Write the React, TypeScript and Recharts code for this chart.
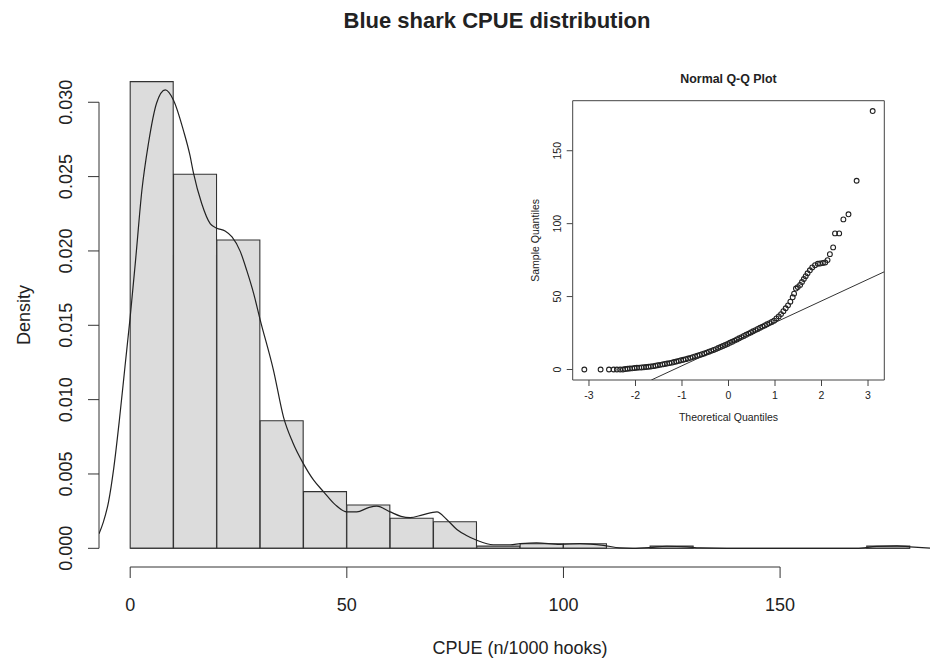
import React from 'react';
import {
  BarChart, Bar, LineChart, Line, ScatterChart, Scatter,
  XAxis, YAxis, ReferenceLine, ReferenceArea,
} from 'recharts';

const FONT = '"Liberation Sans", Arial, Helvetica, sans-serif';
const INK = '#222';

// histogram: bin midpoints (width 10) and density heights
const binMids = [5, 15, 25, 35, 45, 55, 65, 75, 85, 95, 105, 115, 125, 135, 145, 155, 165, 175];
const binDensity = [
  0.03139, 0.02516, 0.02074, 0.00858, 0.00381, 0.00291, 0.00202, 0.00179, 0.00015,
  0.00031, 0.00031, 0, 0.00015, 0, 0, 0, 0, 0.00015,
];
const binRange = [0, 180];

// kernel density curve
const curveX = [
  -7.2, -6.2, -5.0, -3.8, -2.5, -1.2, 0, 1.3, 2.7, 4.2, 6.1, 8.1, 10, 12.3, 13.8, 14.6,
  16.5, 18.5, 20, 21.9, 23.5, 25.4, 26.9, 28.5, 30, 33.1, 35.4, 37.5, 40, 42.3, 44.6,
  47.3, 50, 52.3, 55, 56.9, 60, 62.5, 64.6, 67.5, 70.8, 73, 75.4, 77.5, 80, 83.8, 87.7,
  90, 93.8, 99.2, 103.8, 109.2, 113, 116, 120, 123.8, 128.5, 131.5, 137.7, 150, 167.7,
  172.3, 177, 180, 184.6,
];
const curveY = [
  0.00098, 0.00176, 0.00313, 0.00538, 0.00861, 0.01223, 0.01556, 0.01957, 0.02408, 0.02721,
  0.02995, 0.03083, 0.03014, 0.02809, 0.02642, 0.02525, 0.02319, 0.02182, 0.02153, 0.02134,
  0.02094, 0.01997, 0.01869, 0.01713, 0.01537, 0.01194, 0.00881, 0.00714, 0.00568, 0.0046,
  0.00382, 0.00294, 0.00245, 0.00245, 0.00274, 0.00284, 0.00245, 0.00215, 0.00206, 0.00225,
  0.00245, 0.00196, 0.00127, 0.00088, 0.00054, 0.00024, 0.00024, 0.00031, 0.00037,
  0.00027, 0.00031, 0.0002, 0.00003, 0, 0.00005, 0.00014, 0.0001, 0.00003, 0, 0, 0,
  0.00013, 0.00016, 0.0001, 0.00002,
];

const xTicks = [0, 50, 100, 150];
const yTicks = [0, 0.005, 0.01, 0.015, 0.02, 0.025, 0.03];
const xDomain = [-7.2, 184.6];
const yDomain = [-0.001256, 0.03266];

// Q-Q inset
const qqTheo = [
  -3.10, -2.75, -2.57, -2.47, -2.40, -2.33, -2.27, -2.22, -2.17, -2.12, -2.07, -2.02,
  -1.97, -1.92, -1.87, -1.82, -1.77, -1.72, -1.67, -1.62, -1.57, -1.52, -1.47, -1.42,
  -1.37, -1.32, -1.27, -1.22, -1.17, -1.12, -1.07, -1.02, -0.97, -0.92, -0.87, -0.82,
  -0.77, -0.72, -0.67, -0.62, -0.57, -0.52, -0.47, -0.42, -0.37, -0.32, -0.27, -0.22,
  -0.17, -0.12, -0.07, -0.02, 0.03, 0.08, 0.13, 0.18, 0.23, 0.28, 0.33, 0.38, 0.43,
  0.48, 0.53, 0.58, 0.63, 0.68, 0.73, 0.78, 0.83, 0.88, 0.93, 0.98, 1.03, 1.08, 1.13,
  1.18, 1.23, 1.28, 1.33, 1.38, 1.41, 1.45, 1.49, 1.54, 1.58, 1.62, 1.66, 1.70, 1.75,
  1.80, 1.86, 1.92, 1.97, 2.03, 2.08, 2.13, 2.18, 2.25, 2.29, 2.38, 2.47, 2.58, 2.755, 3.10,
];
const qqSample = [
  0, 0, 0, 0, 0, 0, 0, 0.3, 0.5, 0.7, 0.8, 1.0,
  1.2, 1.3, 1.4, 1.5, 1.7, 1.9, 2.1, 2.3, 2.6, 2.9, 3.2, 3.5,
  3.8, 4.1, 4.4, 4.7, 5.1, 5.5, 5.9, 6.3, 6.7, 7.1, 7.5, 8.0,
  8.5, 9.0, 9.5, 10.0, 10.5, 11.0, 11.6, 12.2, 12.8, 13.4, 14.0, 14.7,
  15.4, 16.1, 16.8, 17.5, 18.3, 19.0, 19.8, 20.6, 21.4, 22.2, 23.0, 23.8, 24.6,
  25.4, 26.2, 27.0, 27.8, 28.6, 29.4, 30.2, 31.0, 31.8, 32.6, 33.5, 35.0, 36.4, 38.0,
  40.0, 42.0, 44.0, 46.5, 49.5, 52.0, 55.5, 56.5, 58.0, 60.0, 62.0, 64.0, 66.0, 68.0,
  70.0, 71.5, 72.5, 72.7, 73.0, 73.4, 75.0, 79.1, 83.7, 93.3, 93.3, 102.9, 106.4, 129.4, 177.2,
];
const qqLine = [{ x: -1.66, y: -7.2 }, { x: 3.35, y: 67 }];
const qqXTicks = [-3, -2, -1, 0, 1, 2, 3];
const qqYTicks = [0, 50, 100, 150];
const qqXDomain = [-3.35, 3.35];
const qqYDomain = [-7.2, 184.3];

const bins = binMids.map((mid, i) => ({ mid, density: binDensity[i] }));
const curve = curveX.map((x, i) => ({ x, y: curveY[i] }));
const qq = qqTheo.map((t, i) => ({ t, s: qqSample[i] }));

const RotTick = ({ x, y, payload, size, fmt }: any) => (
  <text
    x={x} y={y} transform={`rotate(-90, ${x}, ${y})`}
    textAnchor="middle" dominantBaseline="central"
    fontSize={size} fontFamily={FONT} fill={INK}
  >
    {fmt(payload.value)}
  </text>
);

const TOP = 62.7;

export default function App() {
  return (
    <div style={{ position: 'absolute', left: 0, top: 0, width: 930, height: 659, background: '#fff' }}>
      <div style={{ position: 'absolute', left: 0, top: 0 }}>
        <BarChart
          width={930} height={659} data={bins}
          margin={{ top: TOP, right: 0, bottom: 0, left: 0 }}
          barCategoryGap={0} barGap={0}
        >
          <XAxis
            type="number" dataKey="mid" domain={xDomain} allowDataOverflow ticks={xTicks}
            height={92} axisLine={false} tickSize={11} tickMargin={20}
            tickLine={{ stroke: '#333' }}
            tick={{ fontSize: 18, fontFamily: FONT, fill: INK }}
          />
          <YAxis
            type="number" domain={yDomain} allowDataOverflow ticks={yTicks}
            width={99} axisLine={false} tickSize={11} tickMargin={22}
            tickLine={{ stroke: '#333' }}
            tick={<RotTick size={18} fmt={(v: number) => v.toFixed(3)} />}
          />
          <Bar
            dataKey="density" fill="#dcdcdc" stroke="#333" strokeWidth={1.1}
            barSize={43} isAnimationActive={false}
          />
          <ReferenceLine
            segment={[{ x: binRange[0], y: 0 }, { x: binRange[1], y: 0 }]}
            stroke="#333" strokeWidth={1.1} ifOverflow="visible"
          />
          <ReferenceLine
            segment={[{ x: xTicks[0], y: yDomain[0] }, { x: xTicks[xTicks.length - 1], y: yDomain[0] }]}
            stroke="#333" strokeWidth={1} ifOverflow="visible"
          />
          <ReferenceLine
            segment={[{ x: xDomain[0], y: yTicks[0] }, { x: xDomain[0], y: yTicks[yTicks.length - 1] }]}
            stroke="#333" strokeWidth={1} ifOverflow="visible"
          />
        </BarChart>
      </div>

      <div style={{ position: 'absolute', left: 0, top: 0 }}>
        <LineChart width={930} height={659} data={curve} margin={{ top: TOP, right: 0, bottom: 92, left: 99 }}>
          <XAxis type="number" dataKey="x" domain={xDomain} allowDataOverflow hide />
          <YAxis type="number" domain={yDomain} allowDataOverflow hide />
          <Line
            type="monotone" dataKey="y" stroke="#222" strokeWidth={1.2}
            dot={false} isAnimationActive={false}
          />
        </LineChart>
      </div>

      <div style={{ position: 'absolute', left: 500, top: 60 }}>
        <ScatterChart width={400} height={380} margin={{ top: 40.7, right: 15.7, bottom: 0, left: 0 }}>
          <XAxis
            type="number" dataKey="t" domain={qqXDomain} allowDataOverflow ticks={qqXTicks}
            height={60} axisLine={false} tickSize={6} tickMargin={6}
            tickLine={{ stroke: '#444' }}
            tick={{ fontSize: 10.5, fontFamily: FONT, fill: INK }}
          />
          <YAxis
            type="number" dataKey="s" domain={qqYDomain} allowDataOverflow ticks={qqYTicks}
            width={72.7} axisLine={false} tickSize={6} tickMargin={10}
            tickLine={{ stroke: '#444' }}
            tick={<RotTick size={10.5} fmt={(v: number) => String(v)} />}
          />
          <ReferenceArea
            x1={qqXDomain[0]} x2={qqXDomain[1]} y1={qqYDomain[0]} y2={qqYDomain[1]}
            fill="none" stroke="#444" strokeWidth={1} fillOpacity={0} ifOverflow="visible"
          />
          <ReferenceLine segment={qqLine} stroke="#333" strokeWidth={1} ifOverflow="hidden" />
          <Scatter
            data={qq} isAnimationActive={false}
            shape={(p: any) => (
              <circle cx={p.cx} cy={p.cy} r={2.4} fill="none" stroke="#222" strokeWidth={1.1} />
            )}
          />
        </ScatterChart>
      </div>

      <svg width={930} height={659} style={{ position: 'absolute', left: 0, top: 0, pointerEvents: 'none' }}>
        <g fontFamily={FONT} fill={INK} textAnchor="middle">
          <text x={497} y={20} fontSize={22} fontWeight="bold" dominantBaseline="central">
            Blue shark CPUE distribution
          </text>
          <text x={520} y={648} fontSize={18} dominantBaseline="central">CPUE (n/1000 hooks)</text>
          <text x={24} y={315} fontSize={18} dominantBaseline="central" transform="rotate(-90, 24, 315)">
            Density
          </text>
          <text x={728.5} y={79.3} fontSize={12.4} fontWeight="bold" dominantBaseline="central">
            Normal Q-Q Plot
          </text>
          <text x={728.5} y={417.3} fontSize={10.5} dominantBaseline="central">Theoretical Quantiles</text>
          <text x={535} y={240.3} fontSize={10.5} dominantBaseline="central" transform="rotate(-90, 535, 240.3)">
            Sample Quantiles
          </text>
        </g>
      </svg>
    </div>
  );
}
